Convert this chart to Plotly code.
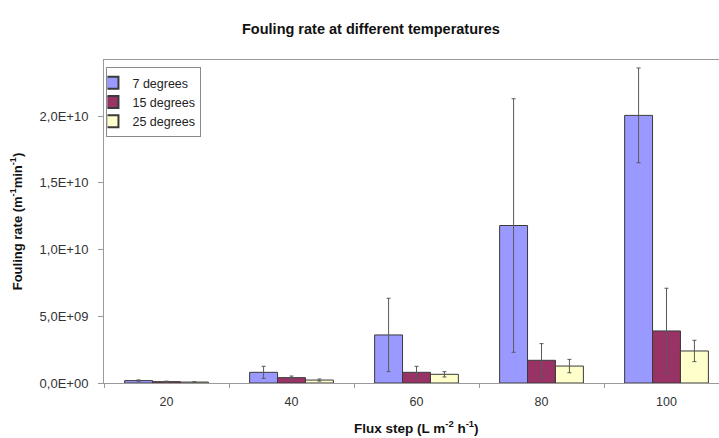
import plotly.graph_objects as go

# Flux steps (L m-2 h-1)
flux_steps = ["20", "40", "60", "80", "100"]

# Mean fouling rate (m-1 min-1) per temperature
rate_7 = [0.18e9, 0.80e9, 3.60e9, 11.8e9, 20.05e9]
rate_15 = [0.10e9, 0.40e9, 0.80e9, 1.70e9, 3.90e9]
rate_25 = [0.07e9, 0.22e9, 0.65e9, 1.27e9, 2.40e9]

# Standard deviations
err_7 = [0.05e9, 0.45e9, 2.75e9, 9.5e9, 3.55e9]
err_15 = [0.04e9, 0.12e9, 0.45e9, 1.25e9, 3.2e9]
err_25 = [0.03e9, 0.08e9, 0.20e9, 0.50e9, 0.80e9]

series_names = ["7 degrees", "15 degrees", "25 degrees"]
colors = ["#9999FF", "#993366", "#FFFFCC"]

y_tickvals = [0, 5e9, 1e10, 1.5e10, 2e10]
y_ticktext = ["0,0E+00", "5,0E+09", "1,0E+10", "1,5E+10", "2,0E+10"]

fig = go.Figure()
for name, vals, errs, col in zip(series_names, [rate_7, rate_15, rate_25],
                                 [err_7, err_15, err_25], colors):
    fig.add_trace(go.Bar(
        x=flux_steps, y=vals, name=name,
        marker=dict(color=col, line=dict(color="#3a3a3a", width=1)),
        error_y=dict(type="data", array=errs, visible=True,
                     color="#5a5a5a", thickness=1, width=2),
    ))

font_main = "Liberation Sans, Arial, sans-serif"

fig.update_layout(
    width=719, height=438,
    margin=dict(l=104, r=0, t=60, b=55),
    paper_bgcolor="white", plot_bgcolor="white",
    barmode="group", bargap=0.33, bargroupgap=0,
    font=dict(family=font_main, size=12, color="#222"),
    showlegend=True,
    legend=dict(
        x=0.004, y=0.978, xanchor="left", yanchor="top",
        bordercolor="#8a8a8a", borderwidth=1, bgcolor="white",
        font=dict(size=12.5, color="#222"),
        itemwidth=30, tracegroupgap=0, itemsizing="constant",
        indentation=-15,
    ),
    xaxis=dict(
        type="category", range=[-0.5, 4.42],
        showline=True, linecolor="#9a9a9a", linewidth=1, mirror=True,
        ticks="outside", tickson="boundaries", ticklen=4, tickcolor="#9a9a9a",
        ticklabelstandoff=7,
        showgrid=False, tickfont=dict(size=12.5, color="#333"),
    ),
    yaxis=dict(
        range=[0, 2.42e10],
        tickvals=y_tickvals, ticktext=y_ticktext,
        showline=True, linecolor="#9a9a9a", linewidth=1,
        ticks="outside", ticklen=5, tickcolor="#9a9a9a",
        ticklabelstandoff=7,
        showgrid=False, zeroline=False,
        tickfont=dict(size=13, color="#333"),
        title=dict(text="<b>Fouling rate (m<sup>-1</sup>min<sup>-1</sup>)</b>",
                   font=dict(size=13, color="#111"), standoff=14),
    ),
    annotations=[
        dict(text="<b>Fouling rate at different temperatures</b>",
             xref="paper", yref="paper", x=(371 - 104) / 615, y=1 + (60 - 29) / 323,
             xanchor="center", yanchor="middle", showarrow=False,
             font=dict(size=14.5, color="#111")),
        dict(text="<b>Flux step (L m<sup>-2</sup> h<sup>-1</sup>)</b>",
             xref="paper", yref="paper", x=(416 - 104) / 615, y=-(427 - 383) / 323,
             xanchor="center", yanchor="middle", showarrow=False,
             font=dict(size=13.5, color="#111")),
    ],
)

fig.write_html("out.html")
